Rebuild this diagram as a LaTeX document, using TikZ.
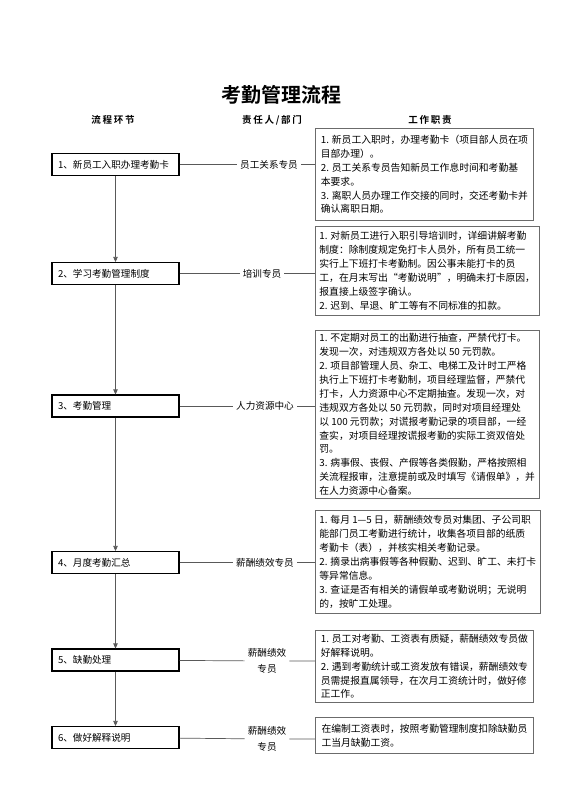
\documentclass[tikz,border=0pt]{standalone}
\usepackage{fontspec}
\setmainfont{Noto Sans CJK SC}[BoldFont={Noto Sans CJK SC Bold}]
\newfontfamily\headfont{Noto Sans CJK SC Bold}[LetterSpace=18]
\definecolor{framegray}{rgb}{0.42,0.42,0.42}
\definecolor{linegray}{rgb}{0.35,0.35,0.35}
\usepackage{tikz}
\usetikzlibrary{arrows.meta}

\begin{document}
\begin{tikzpicture}[x=1pt, y=-1pt,
      stage/.style={draw=black, line width=1.1pt, text width=115pt, inner xsep=6pt,
                    minimum height=22pt, align=left, font=\fontsize{9.6}{11}\selectfont},
      who/.style={inner xsep=3pt, inner ysep=1pt, align=center, font=\fontsize{9.6}{16}\selectfont},
      duty/.style={draw=framegray, line width=0.8pt, anchor=north west, minimum width=218pt,
                   inner xsep=4pt, inner ysep=3pt, align=left, font=\fontsize{9.8}{13.9}\selectfont},
      head/.style={font=\headfont\fontsize{9.5}{12}\selectfont},
      flow/.style={-{Triangle[length=5pt,width=4.5pt]}, color=linegray, line width=0.7pt},
      link/.style={color=linegray, line width=0.7pt}
  ]
    \useasboundingbox (0,0) rectangle (560,792);
    \node[font=\fontsize{20}{24}\selectfont\bfseries] (title) at (281,95) {考勤管理流程};
    \node[head] (h1) at (113,120) {流程环节};
    \node[head] (h2) at (272,120) {责任人/部门};
    \node[head] (h3) at (430,120) {工作职责};
    % process steps
    \node[stage] (s1) at (115.5,164.5) {1、新员工入职办理考勤卡};
    \node[stage] (s2) at (115.5,273.5) {2、学习考勤管理制度};
    \node[stage] (s3) at (115.5,406) {3、考勤管理};
    \node[stage] (s4) at (115.5,562.5) {4、月度考勤汇总};
    \node[stage] (s5) at (115.5,660) {5、缺勤处理};
    \node[stage] (s6) at (115.5,737.5) {6、做好解释说明};
    % responsible persons
    \node[who] (p1) at (269,164.5) {员工关系专员};
    \node[who] (p2) at (262,273.5) {培训专员};
    \node[who] (p3) at (265,406) {人力资源中心};
    \node[who] (p4) at (265,562.5) {薪酬绩效专员};
    \node[who] (p5) at (267,661) {薪酬绩效\\专员};
    \node[who] (p6) at (267,739) {薪酬绩效\\专员};
    % duties
    \node[duty, minimum height=92pt] (d1) at (315,128) {1. 新员工入职时，办理考勤卡（项目部人员在项\\目部办理）。\\2. 员工关系专员告知新员工作息时间和考勤基\\本要求。\\3. 离职人员办理工作交接的同时，交还考勤卡并\\确认离职日期。};
    \node[duty, minimum height=89pt] (d2) at (315,226) {1. 对新员工进行入职引导培训时，详细讲解考勤\\制度：除制度规定免打卡人员外，所有员工统一\\实行上下班打卡考勤制。因公事未能打卡的员\\工，在月末写出“考勤说明”，明确未打卡原因，\\报直接上级签字确认。\\2. 迟到、早退、旷工等有不同标准的扣款。};
    \node[duty, minimum height=163pt] (d3) at (315,330) {1. 不定期对员工的出勤进行抽查，严禁代打卡。\\发现一次，对违规双方各处以 50 元罚款。\\2. 项目部管理人员、杂工、电梯工及计时工严格\\执行上下班打卡考勤制，项目经理监督，严禁代\\打卡，人力资源中心不定期抽查。发现一次，对\\违规双方各处以 50 元罚款，同时对项目经理处\\以 100 元罚款；对谎报考勤记录的项目部，一经\\查实，对项目经理按谎报考勤的实际工资双倍处\\罚。\\3. 病事假、丧假、产假等各类假勤，严格按照相\\关流程报审，注意提前或及时填写《请假单》，并\\在人力资源中心备案。};
    \node[duty, minimum height=103pt] (d4) at (315,510) {1. 每月 1—5 日，薪酬绩效专员对集团、子公司职\\能部门员工考勤进行统计，收集各项目部的纸质\\考勤卡（表），并核实相关考勤记录。\\2. 摘录出病事假等各种假勤、迟到、旷工、未打卡\\等异常信息。\\3. 查证是否有相关的请假单或考勤说明；无说明\\的，按旷工处理。};
    \node[duty, minimum height=72pt] (d5) at (315,630) {1. 员工对考勤、工资表有质疑，薪酬绩效专员做\\好解释说明。\\2. 遇到考勤统计或工资发放有错误，薪酬绩效专\\员需提报直属领导，在次月工资统计时，做好修\\正工作。};
    \node[duty, minimum height=36pt] (d6) at (315,717) {在编制工资表时，按照考勤管理制度扣除缺勤员\\工当月缺勤工资。};
    % flow
    \draw[flow] (s1)--(s2); \draw[flow] (s2)--(s3); \draw[flow] (s3)--(s4);
    \draw[flow] (s4)--(s5); \draw[flow] (s5)--(s6);
    \draw[link] (s1)--(p1)--(p1 -| d1.west);
    \draw[link] (s2)--(p2)--(p2 -| d2.west);
    \draw[link] (s3)--(p3)--(p3 -| d3.west);
    \draw[link] (s4)--(p4)--(p4 -| d4.west);
    \draw[link] (s5)--(p5)--(p5 -| d5.west);
    \draw[link] (s6)--(p6)--(p6 -| d6.west);
  \end{tikzpicture}
\end{document}
